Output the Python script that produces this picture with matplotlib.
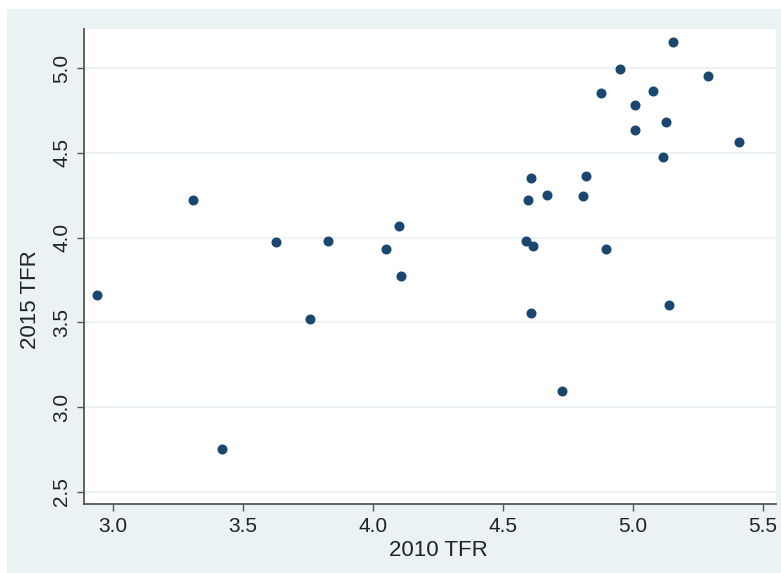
import matplotlib
matplotlib.use("Agg")
import matplotlib.pyplot as plt
from matplotlib.patches import Rectangle

tfr_2010 = [2.937, 3.309, 3.418, 3.628, 3.758, 3.828, 4.048, 4.100, 4.108, 4.587,
            4.597, 4.608, 4.608, 4.617, 4.668, 4.727, 4.808, 4.819, 4.878, 4.897,
            4.949, 5.006, 5.006, 5.076, 5.117, 5.128, 5.138, 5.155, 5.287, 5.407]
tfr_2015 = [3.662, 4.222, 2.752, 3.972, 3.522, 3.982, 3.933, 4.070, 3.772, 3.982,
            4.222, 4.351, 3.554, 3.950, 4.253, 3.096, 4.243, 4.365, 4.853, 3.933,
            4.992, 4.782, 4.633, 4.863, 4.473, 4.682, 3.603, 5.152, 4.953, 4.562]

x_ticks = [3.0, 3.5, 4.0, 4.5, 5.0, 5.5]
y_ticks = [2.5, 3.0, 3.5, 4.0, 4.5, 5.0]

plt.rcParams['font.family'] = ['Liberation Sans', 'DejaVu Sans']

bg = '#EAF2F3'
W, H = 781, 573
fig = plt.figure(figsize=(W / 100, H / 100), dpi=100)
fig.patch.set_facecolor('white')
fig.patches.append(Rectangle((7 / W, 0), 1 - 7 / W, 1 - 9 / H,
                             transform=fig.transFigure, facecolor=bg,
                             edgecolor='none', zorder=-10))

left, right, top, bottom = 84, 776, 29, 504
ax = fig.add_axes([left / W, 1 - bottom / H, (right - left) / W, (bottom - top) / H])
ax.set_facecolor('white')

ax.scatter(tfr_2010, tfr_2015, s=52, color='#1A476F', zorder=3, linewidths=0)

ax.set_xlim(2.888, 5.55)
ax.set_ylim(2.429, 5.23)
ax.set_xticks(x_ticks)
ax.set_yticks(y_ticks)
ax.set_xticklabels([f"{v:.1f}" for v in x_ticks], fontsize=15)
ax.set_yticklabels([f"{v:.1f}" for v in y_ticks], fontsize=15, rotation=90, va='center')
ax.tick_params(axis='both', length=5, width=1.0, color='#555555', pad=4, labelcolor='#222222')

ax.grid(axis='y', color=bg, linewidth=1.5, zorder=1)
ax.set_axisbelow(True)

for s in ['top', 'right']:
    ax.spines[s].set_visible(False)
for s in ['left', 'bottom']:
    ax.spines[s].set_color('#555555')
    ax.spines[s].set_linewidth(1.3)

ax.set_xlabel("2010 TFR", fontsize=16, color='#222222')
ax.set_ylabel("2015 TFR", fontsize=16, color='#222222')
ax.xaxis.set_label_coords(0.512, -0.075)
ax.yaxis.set_label_coords(-0.062, 0.43)

fig.savefig("out.png", dpi=100, facecolor=fig.get_facecolor())
